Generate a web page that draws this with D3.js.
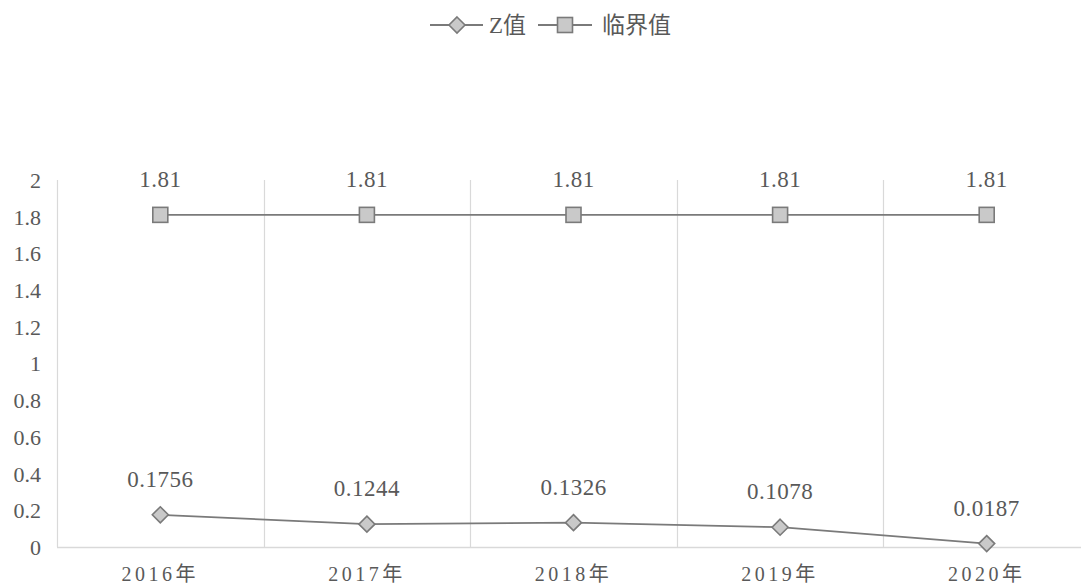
<!DOCTYPE html>
<html>
<head>
<meta charset="utf-8">
<script src="https://cdn.jsdelivr.net/npm/d3@7"></script>
<style>
  html, body { margin: 0; padding: 0; background: #fff; }
  svg { display: block; }
</style>
</head>
<body>
<svg id="chart" width="1081" height="584"></svg>
<script>
// Years on the x axis
const years = ["2016年", "2017年", "2018年", "2019年", "2020年"];
// Z score per year
const zValues = [0.1756, 0.1244, 0.1326, 0.1078, 0.0187];
// Critical threshold
const criticalValues = [1.81, 1.81, 1.81, 1.81, 1.81];
// Y axis ticks
const yTicks = [0, 0.2, 0.4, 0.6, 0.8, 1, 1.2, 1.4, 1.6, 1.8, 2];

const seriesNames = ["Z值", "临界值"];

const FONT = "'Liberation Serif', 'Noto Sans CJK SC', serif";
const TEXT_COLOR = "#595959";

const svg = d3.select("#chart");
const margin = { left: 57, right: -9, top: 180, bottom: 37 };
const W = 1081, H = 584;

const x = d3.scaleBand().domain(years).range([margin.left, W - margin.right]).padding(0);
const y = d3.scaleLinear().domain([0, 2]).range([H - margin.bottom, margin.top]);

const lineColor = "#7a7a7a";
const gridColor = "#d9d9d9";
const markerFill = "#c9c9c9";

function styleText(sel, size) {
  sel.style("font-family", FONT)
     .style("font-size", size + "px")
     .style("fill", TEXT_COLOR);
}

// vertical category separators
const g = svg.append("g");
g.selectAll("line.sep")
  .data(years)
  .join("line")
  .attr("x1", d => Math.round(x(d)) + 0.5)
  .attr("x2", d => Math.round(x(d)) + 0.5)
  .attr("y1", y(2))
  .attr("y2", y(0))
  .attr("stroke", gridColor)
  .attr("stroke-width", 1.2);

// baseline
g.append("line")
  .attr("x1", margin.left).attr("x2", W)
  .attr("y1", Math.round(y(0)) + 0.5).attr("y2", Math.round(y(0)) + 0.5)
  .attr("stroke", gridColor).attr("stroke-width", 1.4);

// y axis labels
const yAxis = d3.axisLeft(y).tickValues(yTicks).tickSize(0).tickPadding(0).tickFormat(d3.format("~g"));
svg.append("g")
  .attr("transform", `translate(41,0)`)
  .call(yAxis)
  .call(s => s.select(".domain").remove())
  .call(s => s.selectAll("text").call(styleText, 22).attr("dy", "0.34em"));

// x axis labels
const xAxis = d3.axisBottom(x).tickSize(0).tickPadding(0);
svg.append("g")
  .attr("transform", `translate(0,${y(0)})`)
  .call(xAxis)
  .call(s => s.select(".domain").remove())
  .call(s => s.selectAll("text").call(styleText, 20)
    .style("letter-spacing", "3.5px")
    .attr("dx", 0)
    .attr("dy", 0)
    .attr("y", 34));

const cx = d => x(d) + x.bandwidth() / 2;

const line = d3.line().x(d => cx(d.year)).y(d => y(d.v));
const zData = years.map((yr, i) => ({ year: yr, v: zValues[i] }));
const cData = years.map((yr, i) => ({ year: yr, v: criticalValues[i] }));

// critical line
svg.append("path").datum(cData).attr("d", line)
  .attr("fill", "none").attr("stroke", lineColor).attr("stroke-width", 1.8);
svg.selectAll("rect.crit").data(cData).join("rect")
  .attr("x", d => cx(d.year) - 7.5).attr("y", d => y(d.v) - 7.5)
  .attr("width", 15).attr("height", 15)
  .attr("fill", markerFill).attr("stroke", lineColor).attr("stroke-width", 1.6);
svg.selectAll("text.critLabel").data(cData).join("text")
  .attr("x", d => cx(d.year)).attr("y", d => y(d.v) - 28)
  .attr("text-anchor", "middle").call(styleText, 23)
  .style("letter-spacing", "0.5px")
  .text(d => d.v.toFixed(2));

// Z line
svg.append("path").datum(zData).attr("d", line)
  .attr("fill", "none").attr("stroke", lineColor).attr("stroke-width", 1.8);
const diamond = "M0,-8L8,0L0,8L-8,0Z";
svg.selectAll("path.z").data(zData).join("path")
  .attr("d", diamond)
  .attr("transform", d => `translate(${cx(d.year)},${y(d.v)})`)
  .attr("fill", markerFill).attr("stroke", lineColor).attr("stroke-width", 1.6);
svg.selectAll("text.zLabel").data(zData).join("text")
  .attr("x", d => cx(d.year)).attr("y", d => y(d.v) - 28)
  .attr("text-anchor", "middle").call(styleText, 23)
  .style("letter-spacing", "0.5px")
  .text(d => d.v.toFixed(4));

// legend
const leg = svg.append("g").attr("transform", "translate(430,25)");
leg.append("line").attr("x1", 0).attr("x2", 53).attr("y1", 0).attr("y2", 0)
  .attr("stroke", lineColor).attr("stroke-width", 1.8);
leg.append("path").attr("d", diamond).attr("transform", "translate(27,0)")
  .attr("fill", markerFill).attr("stroke", lineColor).attr("stroke-width", 1.6);
leg.append("text").attr("x", 59).attr("y", 0).attr("dy", "0.36em")
  .call(styleText, 23)
  .text(seriesNames[0]);
leg.append("line").attr("x1", 108).attr("x2", 162).attr("y1", 0).attr("y2", 0)
  .attr("stroke", lineColor).attr("stroke-width", 1.8);
leg.append("rect").attr("x", 127.5).attr("y", -7.5).attr("width", 15).attr("height", 15)
  .attr("fill", markerFill).attr("stroke", lineColor).attr("stroke-width", 1.6);
leg.append("text").attr("x", 172).attr("y", 0).attr("dy", "0.36em")
  .call(styleText, 23)
  .text(seriesNames[1]);
</script>
</body>
</html>
